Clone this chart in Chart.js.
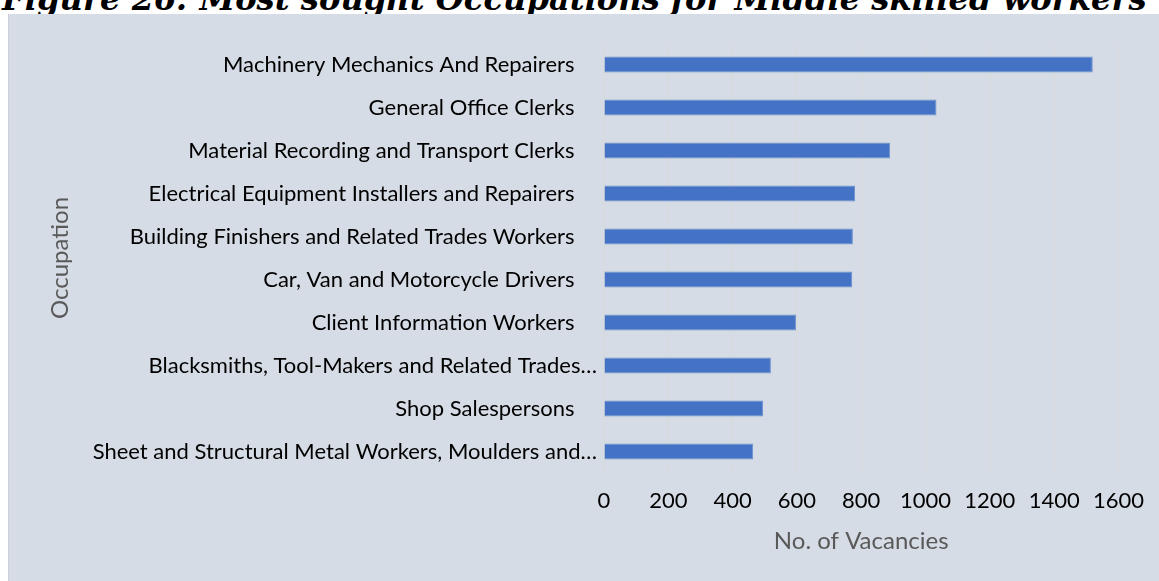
<!DOCTYPE html>
<html lang="en">
<head>
<meta charset="UTF-8" />
<title>Most sought Occupations for Middle skilled workers</title>
<style>
  html, body {
    margin: 0; padding: 0;
    background: #fff;
    width: 1159px; height: 581px;
    overflow: hidden;
  }
  #title {
    position: absolute;
    left: 2px; top: 0;
    white-space: nowrap;
    font-family: 'DejaVu Serif', serif;
    font-style: italic;
    font-weight: bold;
    font-size: 36px;
    line-height: 1;
    color: #000;
  }
  .panel {
    position: absolute;
    left: 9px; top: 14px;
    width: 1150px; height: 567px;
    background: #d6dce5;
    box-shadow: -1px 0 0 #cdd1d6;
  }
</style>
</head>
<body>

<div id="title">Figure 26: Most sought Occupations for Middle skilled workers</div>
<div class="panel">
  <canvas id="vacChart" width="1150" height="567"></canvas>
</div>

<script src="https://cdn.jsdelivr.net/npm/chart.js"></script>
<script>
  // data
  const occupations = [
    'Machinery Mechanics And Repairers',
    'General Office Clerks',
    'Material Recording and Transport Clerks',
    'Electrical Equipment Installers and Repairers',
    'Building Finishers and Related Trades Workers',
    'Car, Van and Motorcycle Drivers',
    'Client Information Workers',
    'Blacksmiths, Tool-Makers and Related Trades\u2026',
    'Shop Salespersons',
    'Sheet and Structural Metal Workers, Moulders and\u2026'
  ];
  const vacancies = [1520, 1034, 890, 781, 774, 772, 597, 519, 495, 464];
  const xMin = 0, xMax = 1600, xStep = 200;

  const labelFont = { family: 'Lato', size: 22 };
  const titleFont = { family: 'Lato', size: 24 };

  // fit the figure caption to the page width, baseline near the top edge
  function placeTitle() {
    const el = document.getElementById('title');
    const c = document.createElement('canvas').getContext('2d');
    c.font = 'italic bold 36px "DejaVu Serif"';
    const m = c.measureText(el.textContent);
    const size = 36 * 1145 / m.width;
    c.font = 'italic bold ' + size + 'px "DejaVu Serif"';
    const m2 = c.measureText(el.textContent);
    const a = m2.fontBoundingBoxAscent, d = m2.fontBoundingBoxDescent;
    const baseline = (size - (a + d)) / 2 + a;
    el.style.fontSize = size + 'px';
    el.style.top = (10 - baseline) + 'px';
  }

  function draw() {
    placeTitle();
    const ctx = document.getElementById('vacChart').getContext('2d');
    new Chart(ctx, {
      type: 'bar',
      data: {
        labels: occupations,
        datasets: [{
          data: vacancies,
          backgroundColor: '#4472c4',
          borderColor: '#6c8fd0',
          borderWidth: 1,
          barPercentage: 0.37,
          categoryPercentage: 1
        }]
      },
      options: {
        indexAxis: 'y',
        responsive: false,
        animation: false,
        layout: { padding: { top: 29, right: 35, bottom: 0, left: 0 } },
        plugins: {
          legend: { display: false },
          tooltip: { enabled: false }
        },
        scales: {
          x: {
            min: xMin, max: xMax,
            ticks: {
              stepSize: xStep, color: '#000', font: labelFont, padding: 15,
              callback: v => String(v)
            },
            grid: { color: '#d9d9d9', drawTicks: false },
            border: { display: false },
            title: {
              display: true, text: 'No. of Vacancies', color: '#595959',
              font: titleFont, padding: { top: 0, bottom: 25 }
            },
            afterFit: s => { s.height = 108; }
          },
          y: {
            ticks: {
              color: '#000', font: labelFont, padding: 7, autoSkip: false,
              // Excel pushes the cut-off labels closer to the axis
              callback: (v, i) => occupations[i].endsWith('\u2026') ? occupations[i] : occupations[i] + '    '
            },
            grid: { display: false, drawTicks: false },
            border: { display: false },
            title: {
              display: true, text: 'Occupation', color: '#595959',
              font: titleFont, padding: { top: 37, bottom: 0 }
            },
            afterFit: s => { s.width = 595; }
          }
        }
      }
    });
  }

  document.fonts.load('22px Lato').then(draw, draw);
</script>
</body>
</html>
